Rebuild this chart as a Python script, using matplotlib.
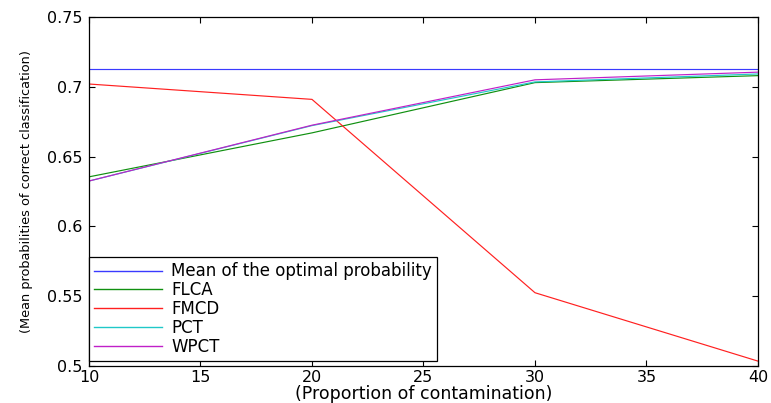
import numpy as np
import matplotlib
matplotlib.use("Agg")
import matplotlib.pyplot as plt

plt.rcParams['font.family'] = ['DejaVu Sans']

contamination = [10, 20, 30, 40]
optimal = [0.7125, 0.7125, 0.7125, 0.7125]
flca = [0.6355, 0.667, 0.703, 0.708]
fmcd = [0.702, 0.691, 0.5525, 0.5035]
pct = [0.6325, 0.6722, 0.7035, 0.7092]
wpct = [0.6325, 0.6725, 0.705, 0.7105]

labels = ["Mean of the optimal probability", "FLCA", "FMCD", "PCT", "WPCT"]
colors = ["#3a3aff", "#109010", "#ff2020", "#20c8c8", "#c020c8"]

fig = plt.figure(figsize=(7.71, 4.03), dpi=100)
ax = fig.add_axes([0.1154, 0.0918, 0.8677, 0.866])

series = [optimal, flca, fmcd, pct, wpct]
for ys, lab, c in zip(series, labels, colors):
    ax.plot(contamination, ys, color=c, lw=0.85, label=lab)

ax.set_xlim(10, 40)
ax.set_ylim(0.5, 0.75)
ax.set_xticks([10, 15, 20, 25, 30, 35, 40])
ax.set_yticks([0.5, 0.55, 0.6, 0.65, 0.7, 0.75])
ax.set_yticklabels(["0.5", "0.55", "0.6", "0.65", "0.7", "0.75"])
ax.tick_params(direction="in", top=True, right=True, labelsize=11.5, length=4)
ax.tick_params(axis="x", pad=3)
ax.tick_params(axis="y", pad=5)
for s in ax.spines.values():
    s.set_linewidth(0.9)

ax.set_xlabel("(Proportion of contamination)", fontsize=12.5, labelpad=0)
ax.set_ylabel("(Mean probabilities of correct classification)", fontsize=9.3, labelpad=10)

leg = ax.legend(loc="lower left", bbox_to_anchor=(0.0, 0.015), borderaxespad=0,
                fontsize=12, fancybox=False, edgecolor="black", framealpha=1,
                handlelength=4.1, handletextpad=0.55, labelspacing=0.05,
                borderpad=0.3)
leg.get_frame().set_linewidth(0.9)
for line in leg.get_lines():
    line.set_linewidth(1.0)

plt.savefig("out.png", dpi=100)
